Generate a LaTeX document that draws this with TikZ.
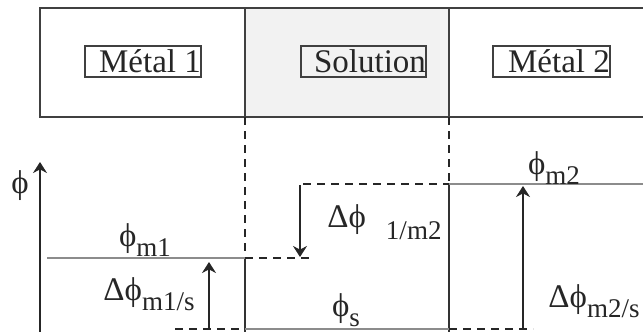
\documentclass[tikz,border=0pt]{standalone}
\usepackage{fontspec}
\setmainfont{Liberation Serif}
\usetikzlibrary{arrows.meta}
\newcommand{\ph}{ϕ}
\newcommand{\subx}[1]{\raisebox{-0.32em}{\fontsize{13.5}{13.5}\selectfont #1}}
\begin{document}
\begin{tikzpicture}[x=0.5pt,y=-0.5pt,
  frame/.style={draw=black!75, line width=0.8pt},
  lbl/.style={draw=black!75, line width=0.7pt, inner sep=0pt, minimum height=15.5pt, font=\fontsize{16.5}{19}\selectfont, text=black!85},
  txt/.style={font=\fontsize{16.5}{19}\selectfont, inner sep=0pt, text=black!85},
  lvl/.style={draw=black!45, line width=0.8pt},
  wall/.style={draw=black!80, line width=0.8pt},
  dsh/.style={draw=black!85, line width=0.8pt, dash pattern=on 4pt off 3pt},
  arr/.style={draw=black!85, line width=0.8pt, -{Stealth[length=5.5pt,width=7pt]}}]
\useasboundingbox (0,0) rectangle (643,332);
% top box
\fill[black!5] (245,8) rectangle (449,117);
\draw[frame] (643,8) -- (40,8) -- (40,117) -- (643,117);
\draw[frame] (245,8) -- (245,117);
\draw[frame] (449,8) -- (449,117);
\node[lbl] (m1) at (143,61.5) {\hspace{7pt}Métal 1\hspace{2.5pt}};
\node[lbl] (sol) at (363.5,61.5) {\hspace{6.5pt}Solution\hspace{4.5pt}};
\node[lbl] (m2) at (551.5,61.5) {\hspace{7.5pt}Métal 2\hspace{1.5pt}};
% coordinates
\coordinate (axB) at (40,332);
\coordinate (axT) at (40,162);
\coordinate (l1a) at (47,258);
\coordinate (l1b) at (245,258);
\coordinate (l1c) at (311,258);
\coordinate (w1t) at (245,117);
\coordinate (w1b) at (245,332);
\coordinate (w2t) at (449,117);
\coordinate (w2m) at (449,184);
\coordinate (w2b) at (449,332);
\coordinate (l2a) at (303,184);
\coordinate (l2b) at (643,184);
\coordinate (sa) at (175,329);
\coordinate (sb) at (245,329);
\coordinate (sc) at (449,329);
\coordinate (sd) at (533,329);
\coordinate (a1b) at (209,329);
\coordinate (a1t) at (209,262);
\coordinate (a2t) at (300,185);
\coordinate (a2b) at (300,257);
\coordinate (a3b) at (523,329);
\coordinate (a3t) at (523,186);
% axis
\draw[arr] (axB) -- (axT);
\node[txt] (phi) at (20,186) {\ph};
% walls
\draw[dsh] (w1t) -- (l1b);
\draw[wall] (l1b) -- (w1b);
\draw[dsh] (w2t) -- (w2m);
\draw[wall] (w2m) -- (w2b);
% levels
\draw[lvl] (l1a) -- (l1b);
\draw[dsh] (l1b) -- (l1c);
\draw[dsh] (l2a) -- (w2m);
\draw[lvl] (w2m) -- (l2b);
\draw[dsh] (sa) -- (sb);
\draw[lvl] (sb) -- (sc);
\draw[dsh] (sc) -- (sd);
% arrows
\draw[arr] (a1b) -- (a1t);
\draw[arr] (a2t) -- (a2b);
\draw[arr] (a3b) -- (a3t);
% labels
\node[txt] (tm1) at (145,240) {\ph\subx{m1}};
\node[txt] (tdm1) at (149,294) {Δ\ph\subx{m1/s}};
\node[txt, anchor=west] (td12) at (327,222) {Δ\ph\hspace{10pt}\raisebox{-0.35em}{\fontsize{13.5}{13.5}\selectfont 1/m2}};
\node[txt] (ts) at (346,310) {\ph\subx{s}};
\node[txt] (tm2) at (554,168) {\ph\subx{m2}};
\node[txt] (tdm2) at (594,301) {Δ\ph\subx{m2/s}};
\end{tikzpicture}
\end{document}
